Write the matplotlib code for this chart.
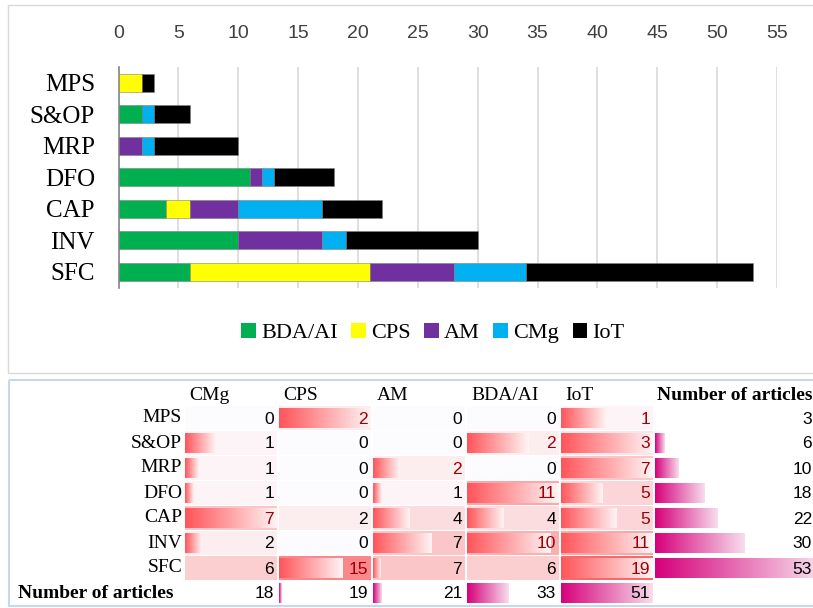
import numpy as np
import matplotlib
matplotlib.use("Agg")
import matplotlib.pyplot as plt
from matplotlib.colors import LinearSegmentedColormap
from matplotlib.patches import Rectangle

# ---------------- data ----------------
categories = ["MPS", "S&OP", "MRP", "DFO", "CAP", "INV", "SFC"]
series_names = ["BDA/AI", "CPS", "AM", "CMg", "IoT"]
series_colors = ["#00B050", "#FFFF00", "#7030A0", "#00B0F0", "#000000"]
bda_ai = [0, 2, 0, 11, 4, 10, 6]
cps = [2, 0, 0, 0, 2, 0, 15]
am = [0, 0, 2, 1, 4, 7, 7]
cmg = [0, 1, 1, 1, 7, 2, 6]
iot = [1, 3, 7, 5, 5, 11, 19]
x_ticks = [0, 5, 10, 15, 20, 25, 30, 35, 40, 45, 50, 55]

table_columns = ["CMg", "CPS", "AM", "BDA/AI", "IoT"]
total_label = "Number of articles"

W, H = 813, 608
fig = plt.figure(figsize=(W / 100, H / 100), dpi=100)

serif = ["Liberation Serif", "DejaVu Serif"]
narrow = ["Liberation Sans Narrow", "Liberation Sans", "DejaVu Sans"]
sans = ["Liberation Sans", "DejaVu Sans"]

# ---------------- panel frames ----------------
bg = fig.add_axes([0, 0, 1, 1])
bg.set_xlim(0, W)
bg.set_ylim(H, 0)
bg.axis("off")
bg.add_patch(Rectangle((8, 5), W, 368, fill=False, ec="#D9D9D9", lw=1))
bg.add_patch(Rectangle((9, 380), W, 226, fill=False, ec="#C9D7EA", lw=1.5))

# ---------------- stacked bar chart ----------------
left_px, right_px, top_px, bot_px = 118.5, 777, 67, 287.5
ax = fig.add_axes([left_px / W, 1 - bot_px / H, (right_px - left_px) / W, (bot_px - top_px) / H])
y = np.arange(len(categories))
stack = [bda_ai, cps, am, cmg, iot]
base = np.zeros(len(categories))
handles = []
for name, vals, col in zip(series_names, stack, series_colors):
    h = ax.barh(y, vals, left=base, height=0.57, color=col, edgecolor="#7F7F7F",
                linewidth=0.4, label=name, zorder=3)
    handles.append(h)
    base += np.array(vals)
ax.set_xlim(0, 55)
ax.set_ylim(len(categories) - 0.5, -0.5)
ax.set_xticks(x_ticks)
ax.xaxis.tick_top()
ax.tick_params(axis="x", length=0, pad=18, labelsize=14, labelcolor="#404040")
for lab in ax.get_xticklabels():
    lab.set_family(narrow)
ax.set_yticks(y)
ax.set_yticklabels(categories, fontsize=18, family=serif)
ax.tick_params(axis="y", length=0, pad=17)
ax.grid(axis="x", color="#D9D9D9", lw=1.2, zorder=0)
for s in ["top", "right", "bottom"]:
    ax.spines[s].set_visible(False)
ax.spines["left"].set_color("#868686")
ax.spines["left"].set_linewidth(1.2)

leg = fig.legend(handles=handles, labels=series_names, loc="center", ncol=5,
                 bbox_to_anchor=(433 / W, 1 - 333 / H), frameon=False,
                 prop={"family": serif, "size": 16}, handlelength=0.65,
                 handleheight=0.65, handletextpad=0.25, columnspacing=0.6)
for p in leg.get_patches():
    p.set_edgecolor("none")

# ---------------- table with data bars ----------------
tb = fig.add_axes([0, 0, 1, 1])
tb.set_xlim(0, W)
tb.set_ylim(H, 0)
tb.axis("off")

matrix = np.array([cmg, cps, am, bda_ai, iot]).T  # rows x columns
row_tot = matrix.sum(axis=1)
col_tot = matrix.sum(axis=0)

col_x0, col_step, col_w = 185, 94, 92
last_w = 165
row_y0, row_step, row_h = 406, 25, 24
header_y = 395

red_cmap = LinearSegmentedColormap.from_list("r", [(1.0, 0.33, 0.35), (1.0, 0.96, 0.96)])
mag_cmap = LinearSegmentedColormap.from_list("m", [(0.84, 0.0, 0.48), (0.97, 0.87, 0.93)])
grad = np.linspace(0, 1, 256).reshape(1, -1)

c_lo = np.array([252, 252, 255]) / 255
c_hi = np.array([248, 105, 107]) / 255
vmax = matrix.max()


def draw_bar(x0, top, width, cmap):
    if width <= 0.5:
        return
    tb.imshow(grad, cmap=cmap, aspect="auto", extent=(x0, x0 + width, top + row_h - 2, top + 2),
              interpolation="bilinear", zorder=3)


# headers
for j, name in enumerate(table_columns):
    tb.text(col_x0 + j * col_step + 4, header_y, name, family=serif, fontsize=14,
            ha="left", va="center")
tb.text(col_x0 + 5 * col_step + 2, header_y, total_label, family=serif, fontsize=14,
        weight="bold", ha="left", va="center")

for i, cat in enumerate(categories):
    top = row_y0 + i * row_step
    cy = top + row_h / 2
    tb.text(182, cy, cat, family=serif, fontsize=14, ha="right", va="center")
    vals = matrix[i]
    mn, mx = vals.min(), vals.max()
    top2 = np.sort(vals)[-2]
    for j, v in enumerate(vals):
        x0 = col_x0 + j * col_step
        t = v / vmax
        bgc = c_lo + (c_hi - c_lo) * t
        tb.add_patch(Rectangle((x0, top), col_w, row_h, color=bgc, lw=0, zorder=1))
        frac = (v - mn) / (mx - mn) if mx > mn else 0
        draw_bar(x0, top, frac * col_w, red_cmap)
        tcol = "#9C0006" if v >= top2 and v > 0 else "black"
        tb.text(x0 + col_w - 3, cy + 1, str(v), family=sans, fontsize=12.5,
                color=tcol, ha="right", va="center", zorder=5)
    # row totals column
    x0 = col_x0 + 5 * col_step
    frac = (row_tot[i] - row_tot.min()) / (row_tot.max() - row_tot.min())
    draw_bar(x0, top, frac * last_w, mag_cmap)
    tb.text(812, cy + 1, str(row_tot[i]), family=sans, fontsize=12.5,
            ha="right", va="center", zorder=5)

# totals row
top = row_y0 + len(categories) * row_step
cy = top + row_h / 2
tb.text(18, cy, total_label, family=serif, fontsize=14, weight="bold", ha="left", va="center")
for j, v in enumerate(col_tot):
    x0 = col_x0 + j * col_step
    frac = (v - col_tot.min()) / (col_tot.max() - col_tot.min())
    draw_bar(x0, top, frac * col_w, mag_cmap)
    tb.text(x0 + col_w - 3, cy + 1, str(v), family=sans, fontsize=12.5,
            ha="right", va="center", zorder=5)

tb.set_xlim(0, W)
tb.set_ylim(H, 0)

fig.savefig("out.png", dpi=100)
